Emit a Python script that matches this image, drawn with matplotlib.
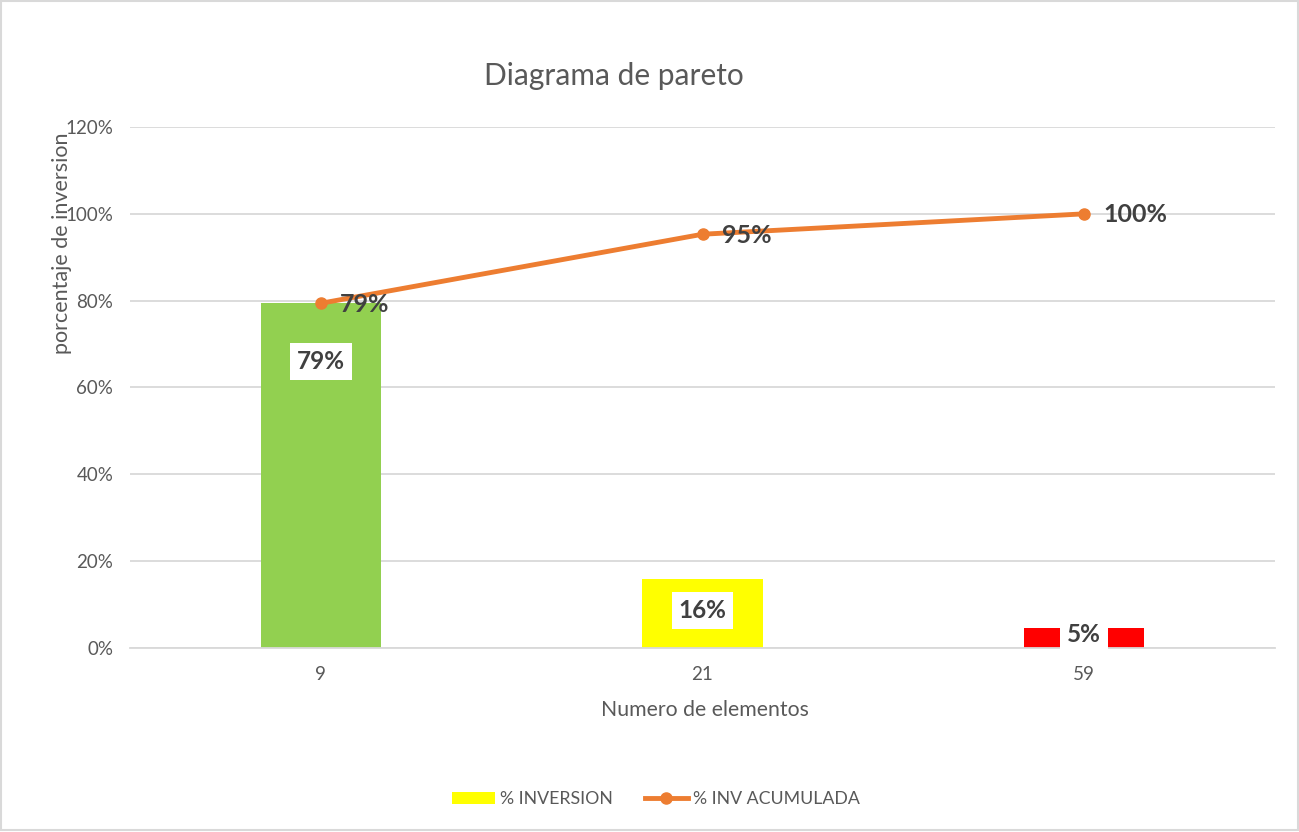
import matplotlib.pyplot as plt
from matplotlib.patches import Rectangle
from matplotlib.lines import Line2D
from matplotlib.patches import Patch
import matplotlib.ticker as ticker

plt.rcParams['font.family'] = ['Lato', 'DejaVu Sans']

categories = ['9', '21', '59']
inversion = [0.794, 0.159, 0.047]
acumulada = [0.794, 0.953, 1.0]
bar_colors = ['#92d050', '#ffff00', '#ff0000']
line_color = '#ed7d31'
text_gray = '#595959'
label_gray = '#404040'

fig = plt.figure(figsize=[12.99, 8.32], dpi=100)
ax = fig.add_axes([130 / 1299, 1 - 648 / 832, 1145 / 1299, 521 / 832])

x = list(range(len(categories)))
ax.bar(x, inversion, width=0.315, color=bar_colors, zorder=2)
ax.plot(x, acumulada, color=line_color, lw=3.5, marker='o', ms=8, zorder=3)

ax.set_xlim(-0.5, 2.5)
ax.set_ylim(0, 1.2)
ax.yaxis.set_major_locator(ticker.MultipleLocator(0.2))
ax.yaxis.set_major_formatter(ticker.PercentFormatter(1.0, decimals=0))
ax.set_xticks(x)
ax.set_xticklabels(categories)
ax.grid(axis='y', color='#d9d9d9', lw=1.3, zorder=0)
for s in ['top', 'right', 'left']:
    ax.spines[s].set_visible(False)
ax.spines['bottom'].set_color('#d9d9d9')
ax.spines['bottom'].set_linewidth(1.3)
ax.tick_params(length=0, labelsize=13.5, labelcolor=text_gray, pad=13)
ax.tick_params(axis='y', pad=12)

# bar labels
bar_label_y = [0.66, 0.087, 0.03]
for i, v in enumerate(inversion):
    ax.text(i, bar_label_y[i], '%d%%' % round(v * 100), ha='center', va='center',
            fontsize=17.5, fontweight='bold', color=label_gray, zorder=4,
            bbox=dict(facecolor='white', edgecolor='none', pad=5))

# line labels
for i, v in enumerate(acumulada):
    ax.text(i + 0.05, v - 0.002, '%d%%' % round(v * 100), ha='left', va='center',
            fontsize=18, fontweight='bold', color=label_gray, zorder=4)

fig.text(614 / 1299, 1 - 76 / 832, 'Diagrama de pareto', ha='center', va='center',
         fontsize=21.5, color=text_gray)
# axis title sits over the tick labels, as in the original
fig.text(62 / 1299, 1 - 243 / 832, 'porcentaje de inversion', ha='center', va='center',
         rotation=90, fontsize=15.5, color=text_gray)
fig.text(705 / 1299, 1 - 710 / 832, 'Numero de elementos', ha='center', va='center',
         fontsize=15.3, color=text_gray)

handles = [Patch(facecolor='#ffff00', edgecolor='none'),
           Line2D([0], [0], color=line_color, lw=3.5, marker='o', ms=8)]
fig.legend(handles, ['% INVERSION', '% INV ACUMULADA'], loc='center',
           bbox_to_anchor=(656 / 1299, 1 - 799 / 832), ncol=2, frameon=False,
           fontsize=12.8, labelcolor=text_gray, handlelength=2.4, columnspacing=1.8,
           handletextpad=0.3)

fig.add_artist(Rectangle((0.001, 0.003), 0.998, 0.996, transform=fig.transFigure,
                         fill=False, edgecolor='#d9d9d9', lw=1.5))

fig.savefig('out.png', dpi=100)
